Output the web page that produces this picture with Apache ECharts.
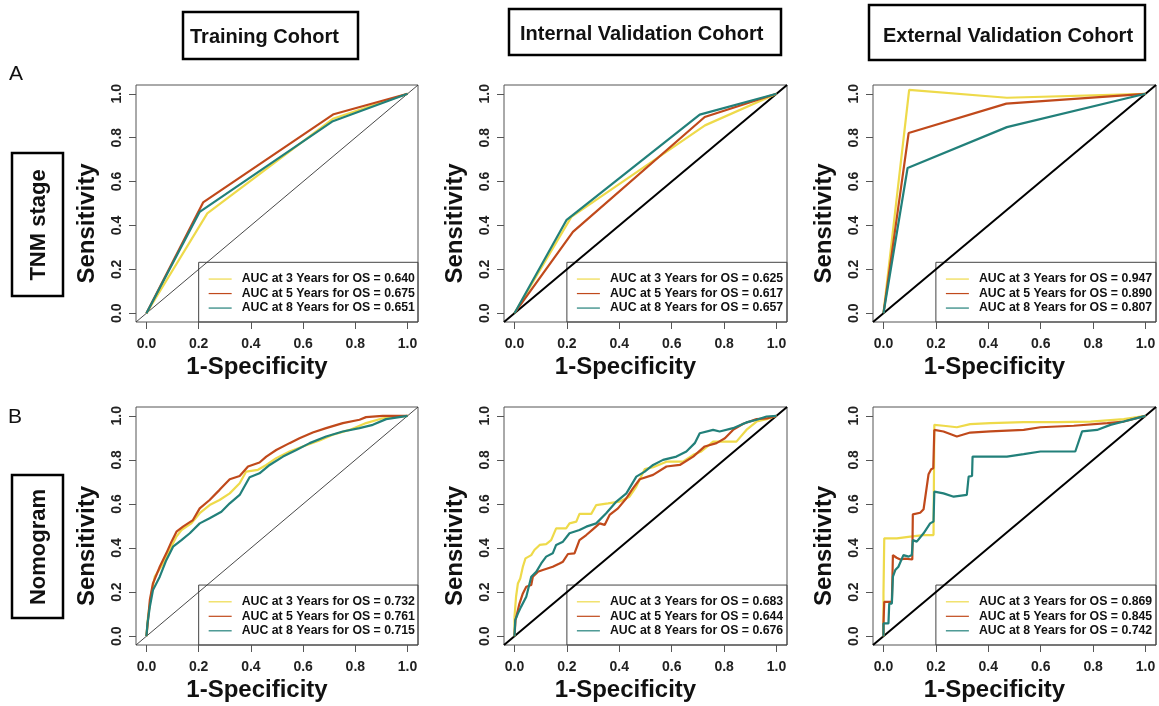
<!DOCTYPE html>
<html><head><meta charset="utf-8">
<script src="https://cdn.jsdelivr.net/npm/echarts@6/dist/echarts.min.js"></script>
<style>html,body{margin:0;padding:0;background:#fff}#c{width:1159px;height:706px}</style>
</head><body><div id="c"></div>
<script>
const FONT = '"Liberation Sans", Arial, Helvetica, sans-serif';
const tickValues = [0, 0.2, 0.4, 0.6, 0.8, 1.0];
const cohortTitles = ['Training Cohort', 'Internal Validation Cohort', 'External Validation Cohort'];
const rowTitles = ['TNM stage', 'Nomogram'];
const rowLetters = ['A', 'B'];
const years = [3, 5, 8];
const lineColors = ['#EEDA4A', '#C0491B', '#22807A'];
const diagonal = [[-0.04, -0.04], [1.04, 1.04]];

// AUC values per panel (3, 5, 8 years)
const aucTrainTNM = [0.640, 0.675, 0.651];
const aucInternalTNM = [0.625, 0.617, 0.657];
const aucExternalTNM = [0.947, 0.890, 0.807];
const aucTrainNomo = [0.732, 0.761, 0.715];
const aucInternalNomo = [0.683, 0.644, 0.676];
const aucExternalNomo = [0.869, 0.845, 0.742];

// ROC curves: [1-specificity, sensitivity]
const trainTNM3 = [[0,0],[0.233,0.455],[0.714,0.886],[1,1]];
const trainTNM5 = [[0,0],[0.217,0.505],[0.717,0.907],[1,1]];
const trainTNM8 = [[0,0],[0.204,0.462],[0.714,0.875],[1,1]];

const internalTNM3 = [[0,0],[0.217,0.439],[0.727,0.856],[1,1]];
const internalTNM5 = [[0,0],[0.223,0.371],[0.726,0.894],[1,1]];
const internalTNM8 = [[0,0],[0.198,0.424],[0.707,0.905],[1,1]];

const externalTNM3 = [[0,0],[0.098,1.018],[0.471,0.982],[1,1]];
const externalTNM5 = [[0,0],[0.096,0.821],[0.469,0.955],[1,1]];
const externalTNM8 = [[0,0],[0.092,0.662],[0.471,0.848],[1,1]];

const trainNomo3 = [[0,0],[0.006,0.088],[0.019,0.194],[0.032,0.27],[0.064,0.33],[0.089,0.391],[0.115,0.452],[0.134,0.482],[0.172,0.512],[0.204,0.558],[0.242,0.595],[0.28,0.618],[0.319,0.648],[0.357,0.694],[0.382,0.747],[0.427,0.755],[0.459,0.777],[0.497,0.808],[0.548,0.838],[0.599,0.861],[0.663,0.888],[0.714,0.914],[0.778,0.936],[0.841,0.967],[0.905,0.989],[1,1]];
const trainNomo5 = [[0,0],[0.006,0.073],[0.013,0.164],[0.025,0.24],[0.051,0.315],[0.076,0.376],[0.096,0.429],[0.115,0.474],[0.14,0.497],[0.178,0.527],[0.204,0.58],[0.242,0.618],[0.28,0.664],[0.319,0.712],[0.357,0.727],[0.389,0.77],[0.433,0.788],[0.459,0.815],[0.497,0.845],[0.548,0.876],[0.586,0.898],[0.637,0.924],[0.688,0.944],[0.752,0.967],[0.816,0.982],[0.841,0.994],[0.905,1.0],[1,1]];
const trainNomo8 = [[0,0],[0.004,0.058],[0.013,0.133],[0.025,0.209],[0.051,0.27],[0.076,0.345],[0.102,0.406],[0.134,0.436],[0.166,0.467],[0.204,0.512],[0.242,0.535],[0.287,0.565],[0.319,0.603],[0.357,0.641],[0.395,0.721],[0.433,0.739],[0.472,0.777],[0.523,0.815],[0.574,0.845],[0.625,0.876],[0.688,0.906],[0.752,0.929],[0.816,0.944],[0.867,0.959],[0.918,0.985],[1,1]];

const internalNomo3 = [[0,0],[0,0.088],[0.006,0.179],[0.013,0.239],[0.022,0.262],[0.032,0.315],[0.042,0.353],[0.064,0.368],[0.076,0.391],[0.096,0.414],[0.121,0.418],[0.14,0.436],[0.159,0.489],[0.197,0.489],[0.21,0.512],[0.236,0.52],[0.248,0.555],[0.293,0.555],[0.312,0.595],[0.357,0.603],[0.401,0.611],[0.439,0.633],[0.465,0.679],[0.497,0.758],[0.529,0.767],[0.58,0.792],[0.643,0.792],[0.682,0.823],[0.713,0.838],[0.758,0.883],[0.809,0.883],[0.847,0.883],[0.885,0.936],[0.924,0.974],[0.962,0.985],[1,1]];
const internalNomo5 = [[0,0],[0.004,0.073],[0.019,0.148],[0.032,0.194],[0.045,0.224],[0.064,0.232],[0.07,0.27],[0.089,0.292],[0.108,0.3],[0.146,0.315],[0.172,0.33],[0.185,0.338],[0.204,0.373],[0.229,0.376],[0.248,0.436],[0.274,0.459],[0.299,0.485],[0.325,0.512],[0.344,0.505],[0.363,0.55],[0.395,0.58],[0.427,0.626],[0.452,0.671],[0.478,0.712],[0.529,0.732],[0.58,0.77],[0.631,0.777],[0.682,0.815],[0.726,0.861],[0.771,0.876],[0.803,0.898],[0.834,0.936],[0.873,0.964],[0.924,0.985],[0.962,0.988],[1,1]];
const internalNomo8 = [[0,0],[0.003,0.073],[0.013,0.103],[0.025,0.133],[0.045,0.179],[0.064,0.27],[0.083,0.292],[0.102,0.33],[0.121,0.361],[0.146,0.376],[0.159,0.414],[0.185,0.429],[0.21,0.467],[0.248,0.482],[0.274,0.497],[0.312,0.512],[0.35,0.558],[0.389,0.611],[0.427,0.648],[0.465,0.724],[0.497,0.747],[0.529,0.777],[0.567,0.8],[0.618,0.815],[0.656,0.838],[0.688,0.876],[0.707,0.921],[0.758,0.936],[0.783,0.929],[0.834,0.944],[0.885,0.97],[0.924,0.982],[0.962,0.997],[1,1]];

const externalNomo3 = [[0,0],[0,0.194],[0.003,0.444],[0.051,0.444],[0.102,0.452],[0.153,0.459],[0.191,0.459],[0.194,0.959],[0.229,0.955],[0.28,0.948],[0.331,0.962],[0.408,0.967],[0.535,0.971],[0.662,0.971],[0.79,0.974],[0.917,0.985],[1,1]];
const externalNomo5 = [[0,0],[0,0.058],[0.003,0.156],[0.032,0.156],[0.036,0.368],[0.05,0.356],[0.064,0.348],[0.083,0.352],[0.11,0.348],[0.112,0.553],[0.14,0.56],[0.153,0.576],[0.172,0.735],[0.182,0.758],[0.19,0.762],[0.194,0.936],[0.229,0.929],[0.28,0.906],[0.331,0.924],[0.408,0.929],[0.535,0.936],[0.599,0.948],[0.726,0.955],[0.854,0.967],[0.917,0.974],[1,1]];
const externalNomo8 = [[0,0],[0,0.058],[0.019,0.058],[0.022,0.148],[0.032,0.148],[0.036,0.27],[0.045,0.3],[0.057,0.315],[0.076,0.368],[0.096,0.361],[0.108,0.368],[0.112,0.436],[0.127,0.429],[0.153,0.467],[0.178,0.512],[0.191,0.52],[0.194,0.656],[0.229,0.648],[0.268,0.633],[0.318,0.641],[0.325,0.724],[0.338,0.727],[0.34,0.815],[0.408,0.815],[0.471,0.815],[0.535,0.826],[0.599,0.838],[0.662,0.838],[0.732,0.838],[0.758,0.929],[0.815,0.936],[0.866,0.959],[0.917,0.974],[1,1]];

const panels = [
  { auc: aucTrainTNM, curves: [trainTNM3, trainTNM5, trainTNM8], thinDiag: true },
  { auc: aucInternalTNM, curves: [internalTNM3, internalTNM5, internalTNM8], thinDiag: false },
  { auc: aucExternalTNM, curves: [externalTNM3, externalTNM5, externalTNM8], thinDiag: false },
  { auc: aucTrainNomo, curves: [trainNomo3, trainNomo5, trainNomo8], thinDiag: true },
  { auc: aucInternalNomo, curves: [internalNomo3, internalNomo5, internalNomo8], thinDiag: false },
  { auc: aucExternalNomo, curves: [externalNomo3, externalNomo5, externalNomo8], thinDiag: false }
];

const gridLefts = [136, 504, 873];
const gridWidths = [282, 283, 283];
const gridTops = [85, 407];
const gridHeights = [237, 238];

const chart = echarts.init(document.getElementById('c'), null, { renderer: 'canvas' });

const grids = [], xAxes = [], yAxes = [], series = [], legends = [];
panels.forEach((p, i) => {
  const col = i % 3, row = Math.floor(i / 3);
  grids.push({ left: gridLefts[col], top: gridTops[row], width: gridWidths[col], height: gridHeights[row],
    show: true, borderColor: '#555', borderWidth: 1, backgroundColor: 'transparent' });
  const common = {
    type: 'value', gridIndex: i, min: -0.04, max: 1.04,
    axisLine: { show: false, onZero: false },
    axisTick: { show: true, length: 7, lineStyle: { color: '#555', width: 1 }, customValues: tickValues },
    splitLine: { show: false },
    nameLocation: 'middle',
    nameTextStyle: { fontFamily: FONT, fontSize: 24, fontWeight: 'bold', color: '#111', padding: [0, 40, 0, 0] }
  };
  xAxes.push(Object.assign({}, common, {
    name: '1-Specificity', nameGap: 33,
    axisLabel: { customValues: tickValues, formatter: v => v.toFixed(1), fontFamily: FONT, fontSize: 14, fontWeight: 'bold', color: '#222', margin: 15 }
  }));
  yAxes.push(Object.assign({}, common, {
    name: 'Sensitivity', nameGap: 37,
    axisLabel: { customValues: tickValues, formatter: v => v.toFixed(1), rotate: 90, fontFamily: FONT, fontSize: 14, fontWeight: 'bold', color: '#222', margin: 12 }
  }));
  series.push({
    type: 'line', xAxisIndex: i, yAxisIndex: i, data: diagonal, symbol: 'none', silent: true,
    lineStyle: { color: p.thinDiag ? '#333' : '#000', width: p.thinDiag ? 0.9 : 2 }, z: 1
  });
  const names = [];
  p.curves.forEach((c, k) => {
    const name = 'AUC at ' + years[k] + ' Years for OS = ' + p.auc[k].toFixed(3);
    names.push(name);
    series.push({
      type: 'line', name: name, xAxisIndex: i, yAxisIndex: i, data: c, symbol: 'none', silent: true,
      color: lineColors[k], lineStyle: { color: lineColors[k], width: 2.2 }, z: 2 + k
    });
  });
  legends.push({
    data: names, orient: 'vertical', icon: 'rect', itemWidth: 23, itemHeight: 1.2, itemGap: 0,
    padding: 0, selectedMode: false, left: 0, top: 0,
    textStyle: { fontFamily: FONT, fontSize: 12.3, fontWeight: 'bold', color: '#111', lineHeight: 14.5, padding: [0, 0, 0, 5] }
  });
});

chart.setOption({
  animation: false,
  backgroundColor: '#fff',
  grid: grids, xAxis: xAxes, yAxis: yAxes, series: series, legend: legends
});

// Legend boxes and positions from the axes' own scales
const graphics = [];
panels.forEach((p, i) => {
  const tl = chart.convertToPixel({ gridIndex: i }, [0.2, 0.232]);
  const br = chart.convertToPixel({ gridIndex: i }, [1.04, -0.04]);
  graphics.push({ type: 'rect', shape: { x: tl[0], y: tl[1], width: br[0] - tl[0], height: br[1] - tl[1] },
    style: { fill: 'none', stroke: '#444', lineWidth: 1 }, silent: true });
  legends[i].left = tl[0] + 10;
  legends[i].top = tl[1] + 9.5;
});

// Column titles
const titleBoxes = [
  { x: 183, y: 12, w: 175, h: 47, tx: 190, ty: 37 },
  { x: 509, y: 9, w: 272, h: 46, tx: 520, ty: 34 },
  { x: 869, y: 5, w: 276, h: 55, tx: 883, ty: 36 }
];
cohortTitles.forEach((t, i) => {
  const b = titleBoxes[i];
  graphics.push({ type: 'rect', shape: { x: b.x, y: b.y, width: b.w, height: b.h }, style: { fill: 'none', stroke: '#000', lineWidth: 2.5 }, silent: true });
  graphics.push({ type: 'text', x: b.tx, y: b.ty, style: { text: t, font: 'bold 20px ' + FONT, fill: '#111', textAlign: 'left', textVerticalAlign: 'middle' }, silent: true });
});
// Row titles
const rowBoxes = [
  { x: 12, y: 153, w: 51, h: 143, cx: 39, cy: 225, lx: 9, ly: 74 },
  { x: 12, y: 475, w: 51, h: 143, cx: 39, cy: 547, lx: 8, ly: 417 }
];
rowTitles.forEach((t, i) => {
  const b = rowBoxes[i];
  graphics.push({ type: 'rect', shape: { x: b.x, y: b.y, width: b.w, height: b.h }, style: { fill: 'none', stroke: '#000', lineWidth: 2.5 }, silent: true });
  graphics.push({ type: 'text', x: b.cx, y: b.cy, rotation: Math.PI / 2, style: { text: t, font: 'bold 22px ' + FONT, fill: '#111', textAlign: 'center', textVerticalAlign: 'middle' }, silent: true });
  graphics.push({ type: 'text', x: b.lx, y: b.ly, style: { text: rowLetters[i], font: '21px ' + FONT, fill: '#111', textAlign: 'left', textVerticalAlign: 'middle' }, silent: true });
});

chart.setOption({ legend: legends, graphic: graphics });
</script>
</body></html>
